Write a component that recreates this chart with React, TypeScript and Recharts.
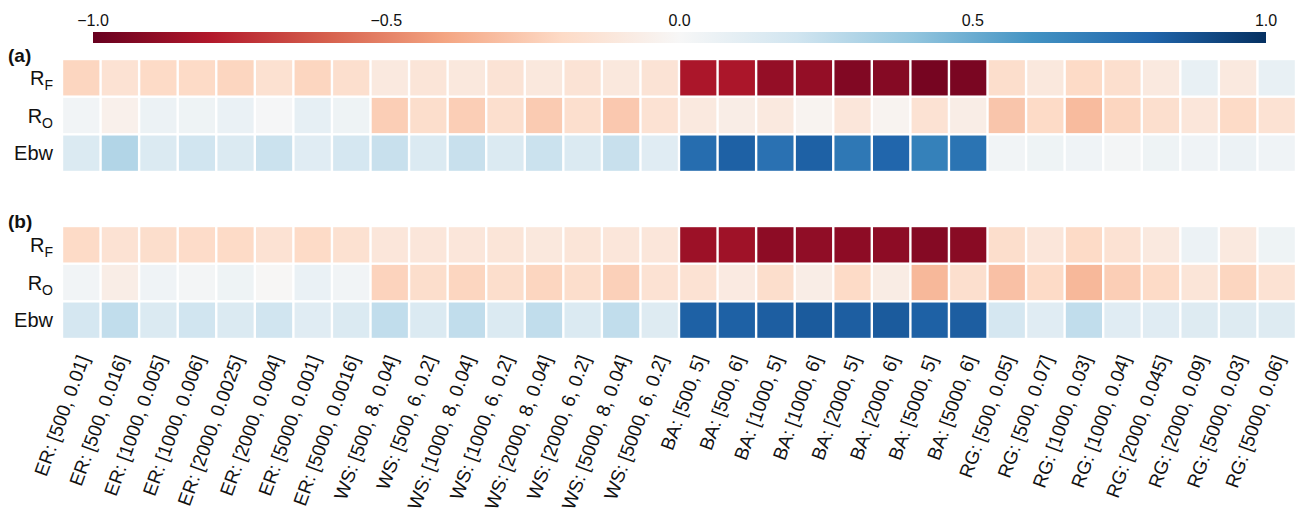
import { Bar, BarChart, Scatter, ScatterChart, XAxis, YAxis } from "recharts";

const FONT = "'Liberation Sans', Arial, sans-serif";

const columns = [
  "ER: [500, 0.01]",
  "ER: [500, 0.016]",
  "ER: [1000, 0.005]",
  "ER: [1000, 0.006]",
  "ER: [2000, 0.0025]",
  "ER: [2000, 0.004]",
  "ER: [5000, 0.001]",
  "ER: [5000, 0.0016]",
  "WS: [500, 8, 0.04]",
  "WS: [500, 6, 0.2]",
  "WS: [1000, 8, 0.04]",
  "WS: [1000, 6, 0.2]",
  "WS: [2000, 8, 0.04]",
  "WS: [2000, 6, 0.2]",
  "WS: [5000, 8, 0.04]",
  "WS: [5000, 6, 0.2]",
  "BA: [500, 5]",
  "BA: [500, 6]",
  "BA: [1000, 5]",
  "BA: [1000, 6]",
  "BA: [2000, 5]",
  "BA: [2000, 6]",
  "BA: [5000, 5]",
  "BA: [5000, 6]",
  "RG: [500, 0.05]",
  "RG: [500, 0.07]",
  "RG: [1000, 0.03]",
  "RG: [1000, 0.04]",
  "RG: [2000, 0.045]",
  "RG: [2000, 0.09]",
  "RG: [5000, 0.03]",
  "RG: [5000, 0.06]",
];

const rowNames = ["RF", "RO", "Ebw"];
const colorbarTicks = [-1, -0.5, 0, 0.5, 1];
const colorbarRange = [{ name: "cb", range: [-1, 1] }];

// panel (a)
const rfA = [
  -0.22, -0.15, -0.2, -0.2, -0.22, -0.16, -0.22, -0.17,
  -0.1, -0.13, -0.11, -0.14, -0.11, -0.14, -0.11, -0.14,
  -0.82, -0.82, -0.88, -0.88, -0.93, -0.92, -0.96, -0.95,
  -0.18, -0.11, -0.2, -0.17, -0.1, 0.08, -0.1, 0.08,
];
const roA = [
  0.03, -0.05, 0.06, 0.05, 0.07, 0.01, 0.09, 0.05,
  -0.25, -0.18, -0.25, -0.17, -0.26, -0.17, -0.27, -0.15,
  -0.1, -0.07, -0.1, -0.03, -0.12, -0.03, -0.15, -0.07,
  -0.28, -0.2, -0.32, -0.22, -0.17, -0.12, -0.2, -0.15,
];
const ebwA = [
  0.15, 0.3, 0.15, 0.2, 0.15, 0.22, 0.12, 0.18,
  0.23, 0.15, 0.23, 0.15, 0.22, 0.15, 0.23, 0.12,
  0.77, 0.82, 0.75, 0.82, 0.72, 0.8, 0.68, 0.74,
  0.03, 0.05, 0.04, 0.02, 0.05, 0.04, 0.06, 0.04,
];

// panel (b)
const rfB = [
  -0.2, -0.15, -0.18, -0.19, -0.2, -0.15, -0.2, -0.16,
  -0.12, -0.12, -0.12, -0.13, -0.11, -0.13, -0.12, -0.12,
  -0.86, -0.85, -0.9, -0.89, -0.9, -0.9, -0.92, -0.91,
  -0.18, -0.12, -0.2, -0.15, -0.1, 0.06, -0.1, 0.05,
];
const roB = [
  0.03, -0.07, 0.04, 0.02, 0.05, -0.01, 0.07, 0.03,
  -0.23, -0.18, -0.22, -0.18, -0.22, -0.18, -0.24, -0.15,
  -0.15, -0.09, -0.18, -0.07, -0.2, -0.08, -0.33, -0.17,
  -0.3, -0.2, -0.33, -0.25, -0.2, -0.13, -0.22, -0.15,
];
const ebwB = [
  0.18, 0.25, 0.15, 0.2, 0.15, 0.2, 0.12, 0.15,
  0.25, 0.15, 0.25, 0.15, 0.25, 0.15, 0.25, 0.13,
  0.82, 0.82, 0.83, 0.84, 0.83, 0.84, 0.82, 0.83,
  0.18, 0.12, 0.25, 0.12, 0.12, 0.13, 0.13, 0.13,
];

const RDBU = [
  "#67001f", "#b2182b", "#d6604d", "#f4a582", "#fddbc7", "#f7f7f7",
  "#d1e5f0", "#92c5de", "#4393c3", "#2166ac", "#053061",
];

function hexToRgb(h: string) {
  return [1, 3, 5].map((i) => parseInt(h.slice(i, i + 2), 16));
}

function rdbu(v: number) {
  const t = ((Math.max(-1, Math.min(1, v)) + 1) / 2) * 10;
  const i = Math.min(9, Math.floor(t));
  const f = t - i;
  const a = hexToRgb(RDBU[i]);
  const b = hexToRgb(RDBU[i + 1]);
  const c = a.map((x, k) => Math.round(x + (b[k] - x) * f));
  return `rgb(${c[0]},${c[1]},${c[2]})`;
}

const W = 1302;
const PLOT_LEFT = 62;
const PLOT_RIGHT = 6;
const PLOT_H = 113;
const CELL_W = (W - PLOT_LEFT - PLOT_RIGHT) / columns.length;
const CELL_H = PLOT_H / rowNames.length;

function buildCells(rows: number[][]) {
  const out: { col: number; row: number; value: number }[] = [];
  rows.forEach((vals, r) => {
    vals.forEach((value, c) => out.push({ col: c, row: r, value }));
  });
  return out;
}

const cellsA = buildCells([rfA, roA, ebwA]);
const cellsB = buildCells([rfB, roB, ebwB]);

function CellShape(props: any) {
  const { cx, cy, payload } = props;
  return (
    <rect
      x={cx - CELL_W / 2 + 1.2}
      y={cy - CELL_H / 2 + 1.2}
      width={CELL_W - 2.4}
      height={CELL_H - 2.4}
      fill={rdbu(payload.value)}
    />
  );
}

function RowTick(props: any) {
  const { x, y, payload } = props;
  const name = rowNames[payload.value];
  const sub = name === "RF" ? "F" : name === "RO" ? "O" : null;
  return (
    <text x={x - 9} y={y} dy="0.35em" textAnchor="end" fontSize={20} fill="#111" fontFamily={FONT}>
      {sub ? (
        <>
          <tspan>R</tspan>
          <tspan fontSize={14} dy={5}>
            {sub}
          </tspan>
        </>
      ) : (
        name
      )}
    </text>
  );
}

function ColTick(props: any) {
  const { x, y, payload } = props;
  return (
    <g transform={`translate(${x + 2},${y + 17})`}>
      <text transform="rotate(-70)" textAnchor="end" dy="0.35em" fontSize={19} fill="#111" fontFamily={FONT}>
        {columns[payload.value]}
      </text>
    </g>
  );
}

const colIdx = columns.map((_, i) => i);
const rowIdx = rowNames.map((_, i) => i);

function Heatmap({ data, showX }: { data: { col: number; row: number; value: number }[]; showX: boolean }) {
  const xh = showX ? 173 : 0;
  return (
    <ScatterChart width={W} height={PLOT_H + xh} margin={{ top: 0, right: PLOT_RIGHT, bottom: 0, left: 0 }}>
      <XAxis
        type="number"
        dataKey="col"
        domain={[-0.5, columns.length - 0.5]}
        ticks={colIdx}
        interval={0}
        axisLine={false}
        tickLine={false}
        tickSize={0}
        tickMargin={0}
        height={xh}
        hide={!showX}
        tick={<ColTick />}
      />
      <YAxis
        type="number"
        dataKey="row"
        domain={[-0.5, rowNames.length - 0.5]}
        ticks={rowIdx}
        interval={0}
        reversed
        axisLine={false}
        tickLine={false}
        tickSize={0}
        tickMargin={0}
        width={PLOT_LEFT}
        tick={<RowTick />}
      />
      <Scatter data={data} shape={<CellShape />} isAnimationActive={false} />
    </ScatterChart>
  );
}

function Colorbar() {
  return (
    <BarChart
      layout="vertical"
      width={W}
      height={43}
      data={colorbarRange}
      barCategoryGap={0}
      margin={{ top: 0, right: 36, bottom: 0, left: 93 }}
    >
      <defs>
        <linearGradient id="rdbu" x1="0" y1="0" x2="1" y2="0">
          {RDBU.map((c, i) => (
            <stop key={i} offset={`${i * 10}%`} stopColor={c} />
          ))}
        </linearGradient>
      </defs>
      <XAxis
        type="number"
        orientation="top"
        domain={[-1, 1]}
        ticks={colorbarTicks}
        interval={0}
        height={32}
        axisLine={false}
        tickLine={false}
        tickSize={0}
        tickMargin={6}
        tickFormatter={(v: number) => v.toFixed(1).replace("-", "\u2212")}
        tick={{ fontSize: 16, fill: "#111", fontFamily: FONT }}
      />
      <YAxis type="category" dataKey="name" hide />
      <Bar dataKey="range" fill="url(#rdbu)" isAnimationActive={false} />
    </BarChart>
  );
}

export default function App() {
  return (
    <div style={{ position: "absolute", left: 0, top: 0, width: W, height: 512, background: "#fff", fontFamily: FONT }}>
      <div style={{ position: "absolute", left: 0, top: 0 }}>
        <Colorbar />
      </div>
      <div style={{ position: "absolute", left: 8, top: 45, fontSize: 19, fontWeight: "bold", color: "#111" }}>(a)</div>
      <div style={{ position: "absolute", left: 0, top: 59 }}>
        <Heatmap data={cellsA} showX={false} />
      </div>
      <div style={{ position: "absolute", left: 8, top: 211, fontSize: 19, fontWeight: "bold", color: "#111" }}>(b)</div>
      <div style={{ position: "absolute", left: 0, top: 226 }}>
        <Heatmap data={cellsB} showX />
      </div>
    </div>
  );
}
